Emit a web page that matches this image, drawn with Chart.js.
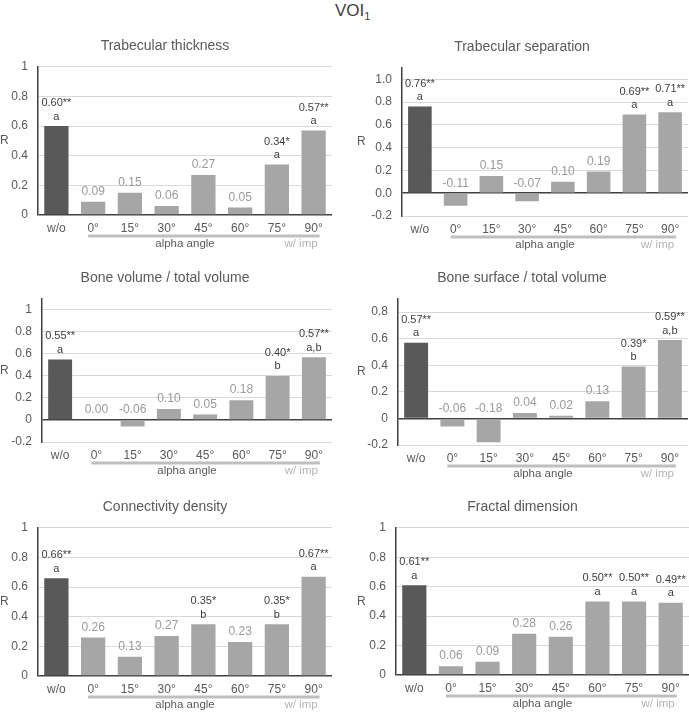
<!DOCTYPE html>
<html>
<head>
<meta charset="utf-8">
<script src="https://cdn.jsdelivr.net/npm/chart.js@4.4.1/dist/chart.umd.min.js"></script>
<style>
  body { margin: 0; width: 689px; height: 712px; overflow: hidden; background: #fff; position: relative;
         font-family: "Liberation Sans", Arial, sans-serif; }
  .panel { position: absolute; }
  #main-title { position: absolute; left: 335px; top: 1px; font-size: 17px; color: #404040; }
  #main-title sub { font-size: 11px; }
</style>
</head>
<body>
<div id="main-title">VOI<sub>1</sub></div>

<script>
// correlation R per alpha angle, six parameters
const categories = ["w/o", "0°", "15°", "30°", "45°", "60°", "75°", "90°"];

const thicknessR = [0.60, 0.09, 0.15, 0.06, 0.27, 0.05, 0.34, 0.57];
const thicknessStars = ["**", "", "", "", "", "", "*", "**"];
const thicknessLetters = ["a", "", "", "", "", "", "a", "a"];

const separationR = [0.76, -0.11, 0.15, -0.07, 0.10, 0.19, 0.69, 0.71];
const separationStars = ["**", "", "", "", "", "", "**", "**"];
const separationLetters = ["a", "", "", "", "", "", "a", "a"];

const bvtvR = [0.55, 0.00, -0.06, 0.10, 0.05, 0.18, 0.40, 0.57];
const bvtvStars = ["**", "", "", "", "", "", "*", "**"];
const bvtvLetters = ["a", "", "", "", "", "", "b", "a,b"];

const bstvR = [0.57, -0.06, -0.18, 0.04, 0.02, 0.13, 0.39, 0.59];
const bstvStars = ["**", "", "", "", "", "", "*", "**"];
const bstvLetters = ["a", "", "", "", "", "", "b", "a,b"];

const connR = [0.66, 0.26, 0.13, 0.27, 0.35, 0.23, 0.35, 0.67];
const connStars = ["**", "", "", "", "*", "", "*", "**"];
const connLetters = ["a", "", "", "", "b", "", "b", "a"];

const fractalR = [0.61, 0.06, 0.09, 0.28, 0.26, 0.50, 0.50, 0.49];
const fractalStars = ["**", "", "", "", "", "**", "**", "**"];
const fractalLetters = ["a", "", "", "", "", "a", "a", "a"];

const FONT = '"Liberation Sans", Arial, sans-serif';
Chart.defaults.font.family = FONT;

// layout of each panel on the page (canvas box + axis geometry)
const panels = [
  { title: "Trabecular thickness", values: thicknessR, stars: thicknessStars, letters: thicknessLetters,
    min: 0, max: 1, oneDecimal: false, left: -2, top: 38, width: 347, height: 213, yWidth: 40, padRight: 13, rX: 2 },
  { title: "Trabecular separation", values: separationR, stars: separationStars, letters: separationLetters,
    min: -0.2, max: 1.1, oneDecimal: true, left: 356, top: 39, width: 333, height: 213, yWidth: 46, padRight: 1, rX: 1 },
  { title: "Bone volume / total volume", values: bvtvR, stars: bvtvStars, letters: bvtvLetters,
    min: -0.2, max: 1.1, oneDecimal: false, left: -2, top: 270, width: 347, height: 208, yWidth: 44, padRight: 13, rX: 2 },
  { title: "Bone surface / total volume", values: bstvR, stars: bstvStars, letters: bstvLetters,
    min: -0.2, max: 0.9, oneDecimal: false, left: 356, top: 270, width: 333, height: 211, yWidth: 42, padRight: 1, rX: 1 },
  { title: "Connectivity density", values: connR, stars: connStars, letters: connLetters,
    min: 0, max: 1, oneDecimal: false, left: -2, top: 499, width: 347, height: 213, yWidth: 40, padRight: 13, rX: 2 },
  { title: "Fractal dimension", values: fractalR, stars: fractalStars, letters: fractalLetters,
    min: 0, max: 1, oneDecimal: false, left: 356, top: 499, width: 333, height: 212, yWidth: 40, padRight: 0, rX: 1 },
];

// value labels, significance letters, "R", the alpha-angle bracket
const annotPlugin = {
  id: "annot",
  afterDatasetsDraw(chart, args, opts) {
    const ctx = chart.ctx;
    const yScale = chart.scales.y;
    const meta = chart.getDatasetMeta(0);
    const vals = chart.data.datasets[0].data;
    ctx.save();
    ctx.textAlign = "center";
    ctx.textBaseline = "middle";
    meta.data.forEach((bar, i) => {
      const v = vals[i];
      const base = yScale.getPixelForValue(Math.max(v, 0));
      const txt = v.toFixed(2) + opts.stars[i];
      if (opts.stars[i]) {
        ctx.fillStyle = "#404040";
        ctx.font = "11px " + FONT;
        ctx.fillText(opts.letters[i], bar.x, base - 9.5);
        ctx.fillText(txt, bar.x, base - 23);
      } else {
        ctx.fillStyle = "#9a9a9a";
        ctx.font = "12px " + FONT;
        ctx.fillText(txt, bar.x, base - 10);
      }
    });
    ctx.restore();
  },
  afterDraw(chart, args, opts) {
    const ctx = chart.ctx;
    const area = chart.chartArea;
    const x = chart.scales.x;
    const x0 = x.getPixelForValue(1) - 5;
    const x1 = x.getPixelForValue(7) + 6;
    ctx.save();
    ctx.strokeStyle = "#bfbfbf";
    ctx.lineWidth = 3;
    ctx.beginPath();
    ctx.moveTo(x0, area.bottom + 21);
    ctx.lineTo(x1, area.bottom + 21);
    ctx.stroke();
    ctx.textBaseline = "middle";
    ctx.font = "11.5px " + FONT;
    ctx.fillStyle = "#595959";
    ctx.textAlign = "center";
    ctx.fillText("alpha angle", (x.getPixelForValue(3) + x.getPixelForValue(4)) / 2, area.bottom + 29);
    ctx.fillStyle = "#b4b4b4";
    ctx.textAlign = "right";
    ctx.fillText("w/ imp", x.getPixelForValue(7) + 4, area.bottom + 29);
    ctx.fillStyle = "#595959";
    ctx.textAlign = "left";
    ctx.font = "12px " + FONT;
    ctx.fillText("R", opts.rX, (area.top + area.bottom) / 2);
    ctx.restore();
  },
};

panels.forEach((p) => {
  const box = document.createElement("div");
  box.className = "panel";
  box.style.left = p.left + "px";
  box.style.top = p.top + "px";
  box.style.width = p.width + "px";
  box.style.height = p.height + "px";
  const canvas = document.createElement("canvas");
  box.appendChild(canvas);
  document.body.appendChild(box);

  new Chart(canvas, {
    type: "bar",
    data: {
      labels: categories,
      datasets: [{
        data: p.values,
        backgroundColor: categories.map((c, i) => (i === 0 ? "#595959" : "#a6a6a6")),
        categoryPercentage: 1,
        barPercentage: 0.66,
      }],
    },
    plugins: [annotPlugin],
    options: {
      responsive: true,
      maintainAspectRatio: false,
      animation: false,
      layout: { padding: { top: 0, bottom: 0, left: 0, right: p.padRight } },
      plugins: {
        legend: { display: false },
        tooltip: { enabled: false },
        title: {
          display: true,
          text: p.title,
          color: "#595959",
          font: { size: 14, weight: "normal" },
          padding: { top: 0, bottom: 12 },
        },
        annot: { stars: p.stars, letters: p.letters, rX: p.rX },
      },
      scales: {
        x: {
          grid: { display: false, drawTicks: false },
          border: { display: false },
          ticks: { color: "#595959", font: { size: 12 }, padding: 6, maxRotation: 0, autoSkip: false },
          afterFit: (s) => { s.height = 36; },
        },
        y: {
          min: p.min,
          max: p.max,
          grid: {
            drawTicks: false,
            color: (c) => (Math.abs(c.tick.value) < 1e-9 ? "#404040" : "#d9d9d9"),
            lineWidth: (c) => (Math.abs(c.tick.value) < 1e-9 ? 1.5 : 1),
          },
          border: { display: true, color: "#404040", width: 1.5 },
          ticks: {
            stepSize: 0.2,
            includeBounds: false,
            color: "#595959",
            font: { size: 12 },
            padding: 10,
            callback: (v) => (p.oneDecimal ? v.toFixed(1) : String(Math.round(v * 10) / 10)),
          },
          afterFit: (s) => { s.width = p.yWidth; },
        },
      },
    },
  });
});
</script>
</body>
</html>
